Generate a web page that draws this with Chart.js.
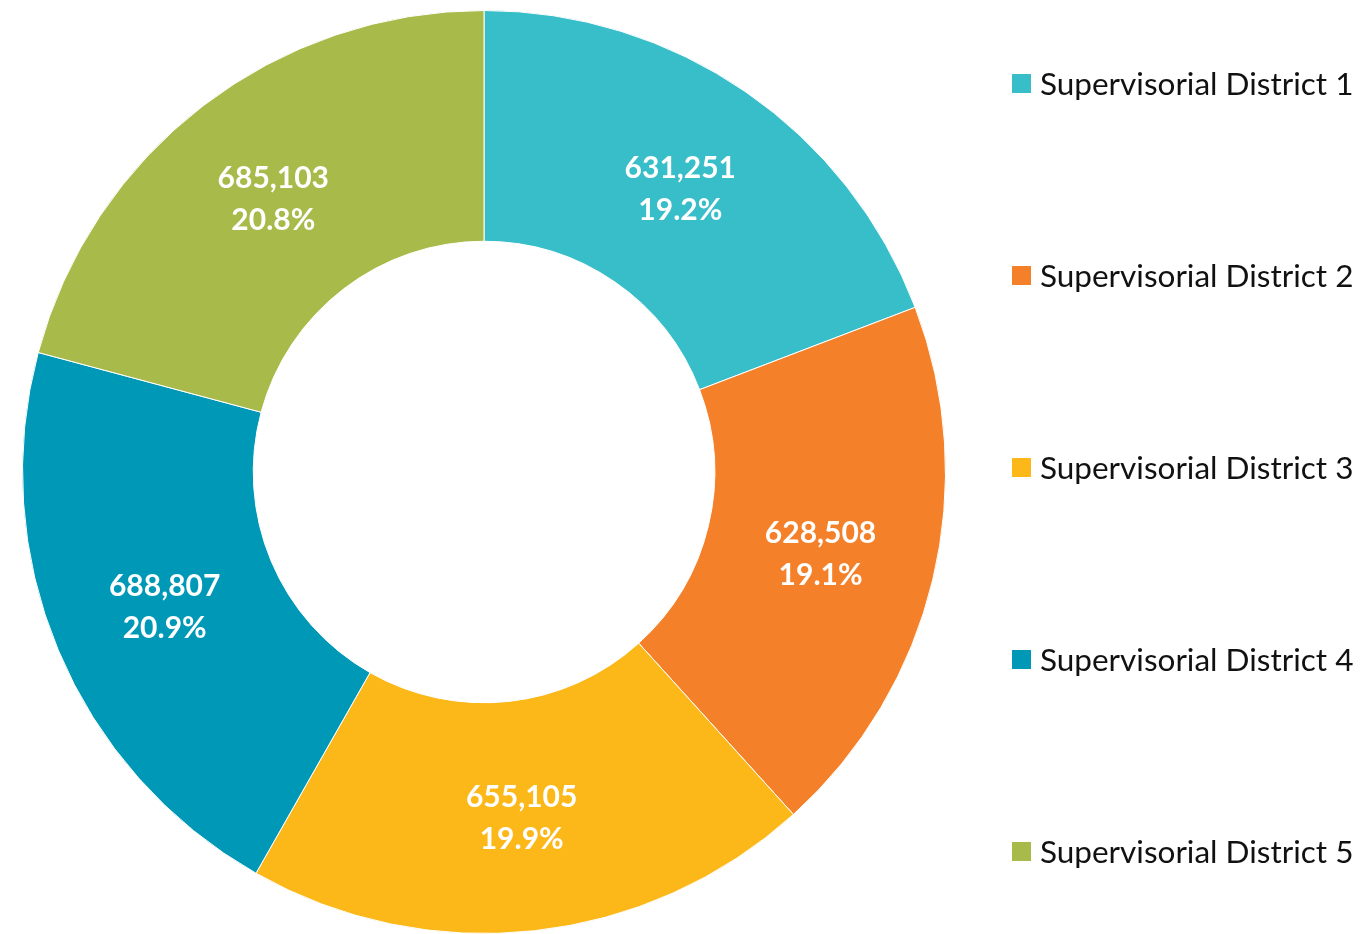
<!DOCTYPE html>
<html>
<head>
<meta charset="utf-8">
<title>Population by Supervisorial District</title>
<script src="https://cdn.jsdelivr.net/npm/chart.js@4"></script>
<style>
  html, body { margin: 0; padding: 0; background: #fff; }
  #wrap { position: relative; width: 1362px; height: 934px; }
  #legend { position: absolute; left: 1012px; top: 0; margin: 0; padding: 0; list-style: none; }
  #legend li { position: absolute; left: 0; white-space: nowrap; height: 40px; width: 360px;
    font-family: Lato, sans-serif; font-size: 31.5px; color: #111; }
  #legend .box { position: absolute; left: 0; top: 11px; width: 19px; height: 19px; }
  #legend .txt { position: absolute; left: 28px; top: 0; line-height: 40px; }
</style>
</head>
<body>
<div id="wrap">
  <canvas id="chart" width="1362" height="934"></canvas>
  <ul id="legend"></ul>
</div>
<script>
// data
const districts = ["Supervisorial District 1", "Supervisorial District 2", "Supervisorial District 3",
                   "Supervisorial District 4", "Supervisorial District 5"];
const population = [631251, 628508, 655105, 688807, 685103];
const sliceColors = ["#38BEC9", "#F4812A", "#FCB819", "#0098B7", "#A8BB4A"];

const total = population.reduce((a, b) => a + b, 0);

// labels inside each slice: value + share
const sliceLabels = {
  id: "sliceLabels",
  afterDatasetsDraw(chart) {
    const ctx = chart.ctx;
    const meta = chart.getDatasetMeta(0);
    ctx.save();
    ctx.fillStyle = "#fff";
    ctx.font = "bold 30px Lato, sans-serif";
    ctx.textAlign = "center";
    ctx.textBaseline = "middle";
    meta.data.forEach((arc, i) => {
      const p = arc.tooltipPosition();
      const v = population[i];
      ctx.fillText(v.toLocaleString("en-US"), p.x, p.y - 19);
      ctx.fillText((v / total * 100).toFixed(1) + "%", p.x, p.y + 23);
    });
    ctx.restore();
  }
};

const chart = new Chart(document.getElementById("chart"), {
  type: "doughnut",
  data: {
    labels: districts,
    datasets: [{
      data: population,
      backgroundColor: sliceColors,
      borderColor: "#fff",
      borderWidth: 1
    }]
  },
  options: {
    responsive: false,
    animation: false,
    cutout: "50%",
    layout: { padding: { left: 22, top: 10, right: 416, bottom: 0 } },
    plugins: {
      legend: { display: false },
      tooltip: { enabled: false }
    }
  },
  plugins: [sliceLabels]
});

// legend on the right, built from the chart's own legend items
const legendEl = document.getElementById("legend");
const items = chart.options.plugins.legend.labels.generateLabels(chart);
items.forEach((it, i) => {
  const li = document.createElement("li");
  li.style.top = (63 + i * 192) + "px";
  li.innerHTML = '<span class="box" style="background:' + it.fillStyle + '"></span>' +
                 '<span class="txt">' + it.text + '</span>';
  legendEl.appendChild(li);
});
</script>
</body>
</html>
